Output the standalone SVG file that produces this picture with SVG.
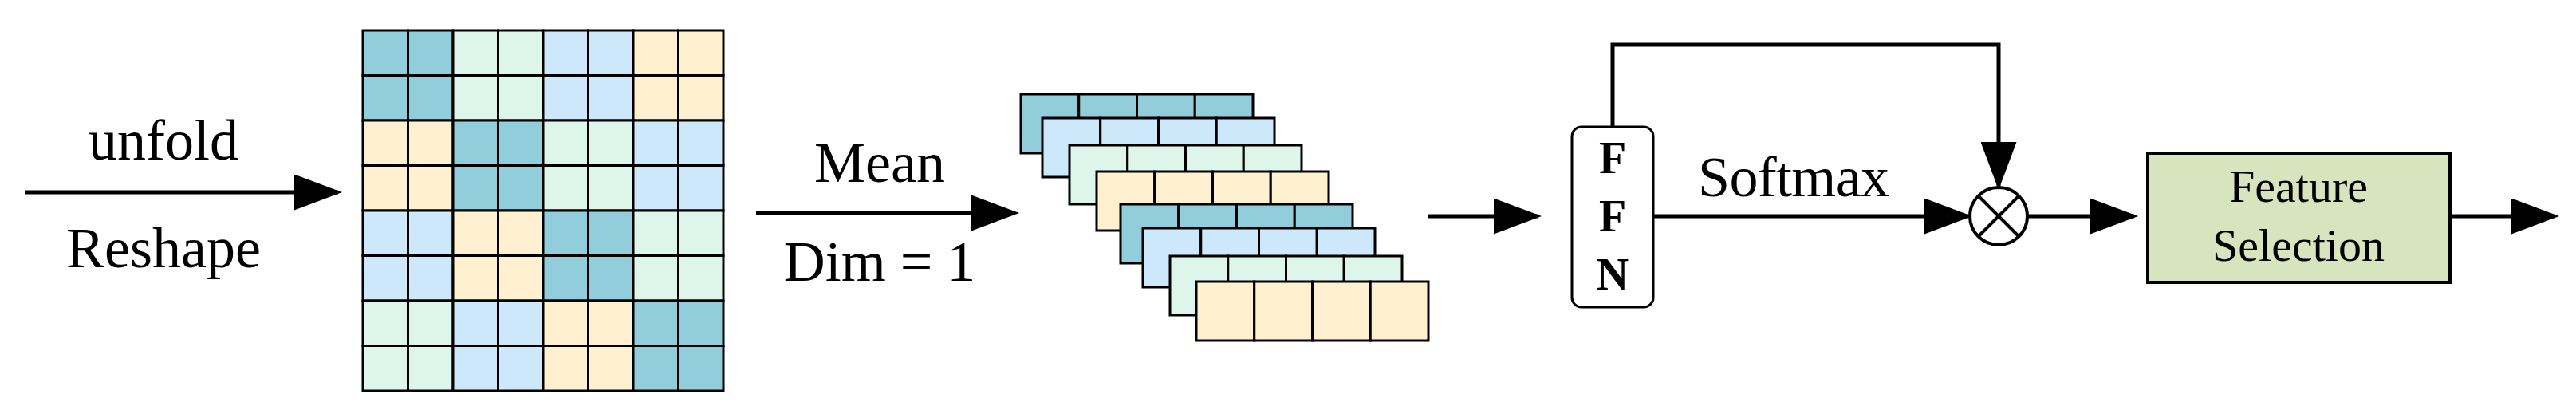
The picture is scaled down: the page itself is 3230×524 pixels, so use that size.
<svg xmlns="http://www.w3.org/2000/svg" width="3230" height="524" viewBox="0 0 3230 524">
<style>
.t{font-family:"Liberation Serif",serif;font-size:72px;fill:#000}
.ln{stroke:#000;stroke-width:5;fill:none}
.c1{fill:#92CDDC}.c2{fill:#DEF5EC}.c3{fill:#CDE8FB}.c4{fill:#FFF1CF}
.cell{stroke:#000;stroke-width:3}
</style>
<defs>
<marker id="ah" markerWidth="12" markerHeight="9" refX="11" refY="4.5" orient="auto" markerUnits="strokeWidth" viewBox="0 0 12 9"><path d="M0,0 L12,4.5 L0,9 Z" fill="#000"/></marker>
<g id="row4"><rect class="cell" x="0" y="0" width="72.75" height="74"/><rect class="cell" x="72.75" y="0" width="72.75" height="74"/><rect class="cell" x="145.5" y="0" width="72.75" height="74"/><rect class="cell" x="218.25" y="0" width="72.75" height="74"/></g>
</defs>
<g id="labels-left">
<text class="t" x="205" y="200" text-anchor="middle">unfold</text>
<text class="t" x="205" y="335" text-anchor="middle">Reshape</text>
<text class="t" x="1103" y="228" text-anchor="middle">Mean</text>
<text class="t" x="1103" y="352" text-anchor="middle">Dim = 1</text>
</g>
<g id="grid">
<g class="cell">
<!-- row pairs -->
<rect class="c1" x="455" y="38" width="56.5" height="56.5"/><rect class="c1" x="511.5" y="38" width="56.5" height="56.5"/><rect class="c2" x="568" y="38" width="56.5" height="56.5"/><rect class="c2" x="624.5" y="38" width="56.5" height="56.5"/><rect class="c3" x="681" y="38" width="56.5" height="56.5"/><rect class="c3" x="737.5" y="38" width="56.5" height="56.5"/><rect class="c4" x="794" y="38" width="56.5" height="56.5"/><rect class="c4" x="850.5" y="38" width="56.5" height="56.5"/>
<rect class="c1" x="455" y="94.5" width="56.5" height="56.5"/><rect class="c1" x="511.5" y="94.5" width="56.5" height="56.5"/><rect class="c2" x="568" y="94.5" width="56.5" height="56.5"/><rect class="c2" x="624.5" y="94.5" width="56.5" height="56.5"/><rect class="c3" x="681" y="94.5" width="56.5" height="56.5"/><rect class="c3" x="737.5" y="94.5" width="56.5" height="56.5"/><rect class="c4" x="794" y="94.5" width="56.5" height="56.5"/><rect class="c4" x="850.5" y="94.5" width="56.5" height="56.5"/>
<rect class="c4" x="455" y="151" width="56.5" height="56.5"/><rect class="c4" x="511.5" y="151" width="56.5" height="56.5"/><rect class="c1" x="568" y="151" width="56.5" height="56.5"/><rect class="c1" x="624.5" y="151" width="56.5" height="56.5"/><rect class="c2" x="681" y="151" width="56.5" height="56.5"/><rect class="c2" x="737.5" y="151" width="56.5" height="56.5"/><rect class="c3" x="794" y="151" width="56.5" height="56.5"/><rect class="c3" x="850.5" y="151" width="56.5" height="56.5"/>
<rect class="c4" x="455" y="207.5" width="56.5" height="56.5"/><rect class="c4" x="511.5" y="207.5" width="56.5" height="56.5"/><rect class="c1" x="568" y="207.5" width="56.5" height="56.5"/><rect class="c1" x="624.5" y="207.5" width="56.5" height="56.5"/><rect class="c2" x="681" y="207.5" width="56.5" height="56.5"/><rect class="c2" x="737.5" y="207.5" width="56.5" height="56.5"/><rect class="c3" x="794" y="207.5" width="56.5" height="56.5"/><rect class="c3" x="850.5" y="207.5" width="56.5" height="56.5"/>
<rect class="c3" x="455" y="264" width="56.5" height="56.5"/><rect class="c3" x="511.5" y="264" width="56.5" height="56.5"/><rect class="c4" x="568" y="264" width="56.5" height="56.5"/><rect class="c4" x="624.5" y="264" width="56.5" height="56.5"/><rect class="c1" x="681" y="264" width="56.5" height="56.5"/><rect class="c1" x="737.5" y="264" width="56.5" height="56.5"/><rect class="c2" x="794" y="264" width="56.5" height="56.5"/><rect class="c2" x="850.5" y="264" width="56.5" height="56.5"/>
<rect class="c3" x="455" y="320.5" width="56.5" height="56.5"/><rect class="c3" x="511.5" y="320.5" width="56.5" height="56.5"/><rect class="c4" x="568" y="320.5" width="56.5" height="56.5"/><rect class="c4" x="624.5" y="320.5" width="56.5" height="56.5"/><rect class="c1" x="681" y="320.5" width="56.5" height="56.5"/><rect class="c1" x="737.5" y="320.5" width="56.5" height="56.5"/><rect class="c2" x="794" y="320.5" width="56.5" height="56.5"/><rect class="c2" x="850.5" y="320.5" width="56.5" height="56.5"/>
<rect class="c2" x="455" y="377" width="56.5" height="56.5"/><rect class="c2" x="511.5" y="377" width="56.5" height="56.5"/><rect class="c3" x="568" y="377" width="56.5" height="56.5"/><rect class="c3" x="624.5" y="377" width="56.5" height="56.5"/><rect class="c4" x="681" y="377" width="56.5" height="56.5"/><rect class="c4" x="737.5" y="377" width="56.5" height="56.5"/><rect class="c1" x="794" y="377" width="56.5" height="56.5"/><rect class="c1" x="850.5" y="377" width="56.5" height="56.5"/>
<rect class="c2" x="455" y="433.5" width="56.5" height="56.5"/><rect class="c2" x="511.5" y="433.5" width="56.5" height="56.5"/><rect class="c3" x="568" y="433.5" width="56.5" height="56.5"/><rect class="c3" x="624.5" y="433.5" width="56.5" height="56.5"/><rect class="c4" x="681" y="433.5" width="56.5" height="56.5"/><rect class="c4" x="737.5" y="433.5" width="56.5" height="56.5"/><rect class="c1" x="794" y="433.5" width="56.5" height="56.5"/><rect class="c1" x="850.5" y="433.5" width="56.5" height="56.5"/>
</g>
</g>
<g id="stack">
<use href="#row4" class="c1" x="1280" y="118"/>
<use href="#row4" class="c3" x="1307" y="148"/>
<use href="#row4" class="c2" x="1341" y="182"/>
<use href="#row4" class="c4" x="1375" y="215"/>
<use href="#row4" class="c1" x="1405" y="256"/>
<use href="#row4" class="c3" x="1433" y="286"/>
<use href="#row4" class="c2" x="1467" y="321"/>
<use href="#row4" class="c4" x="1500" y="353"/>
</g>
<g id="ffn">
<rect x="1971" y="159" width="102" height="226" rx="12" fill="#fff" stroke="#000" stroke-width="3"/>
<g style="font-family:'Liberation Serif',serif;font-weight:bold;font-size:56px" text-anchor="middle">
<text x="2022" y="217">F</text><text x="2022" y="290">F</text><text x="2022" y="363">N</text>
</g>
</g>
<g id="mult">
<circle cx="2506" cy="271" r="36" fill="#fff" stroke="#000" stroke-width="4"/>
<line x1="2480.5" y1="245.5" x2="2531.5" y2="296.5" stroke="#000" stroke-width="4"/>
<line x1="2531.5" y1="245.5" x2="2480.5" y2="296.5" stroke="#000" stroke-width="4"/>
</g>
<g id="fs">
<rect x="2693" y="192" width="379" height="162" fill="#D7E4BD" stroke="#000" stroke-width="4"/>
<text x="2882" y="253" text-anchor="middle" style="font-family:'Liberation Serif',serif;font-size:58px">Feature</text>
<text x="2882" y="327" text-anchor="middle" style="font-family:'Liberation Serif',serif;font-size:58px">Selection</text>
</g>
<text class="t" x="2129" y="246" textLength="240">Softmax</text>
<g id="connectors">
<line class="ln" x1="31" y1="241" x2="424" y2="241" marker-end="url(#ah)"/>
<line class="ln" x1="948" y1="267" x2="1273" y2="267" marker-end="url(#ah)"/>
<line class="ln" x1="1790" y1="271" x2="1928" y2="271" marker-end="url(#ah)"/>
<line class="ln" x1="2073" y1="271" x2="2468" y2="271" marker-end="url(#ah)"/>
<polyline class="ln" points="2022,159 2022,56 2506,56 2506,233" marker-end="url(#ah)"/>
<line class="ln" x1="2542" y1="271" x2="2676" y2="271" marker-end="url(#ah)"/>
<line class="ln" x1="3072" y1="271" x2="3204" y2="271" marker-end="url(#ah)"/>
</g>
</svg>
